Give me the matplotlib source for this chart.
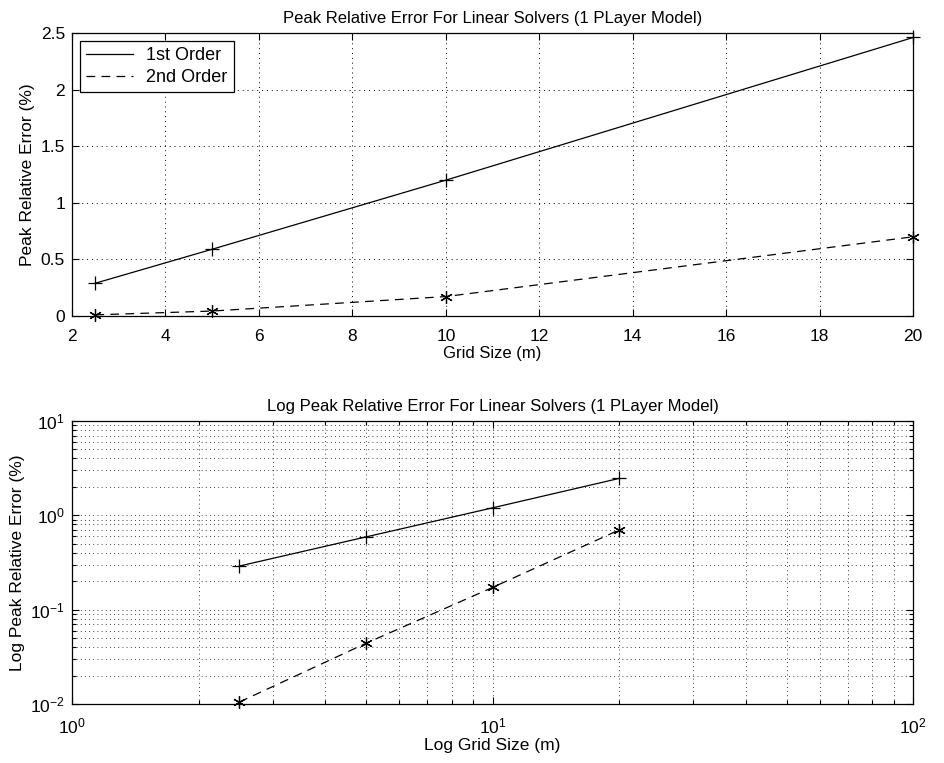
import matplotlib
matplotlib.use("Agg")
import matplotlib.pyplot as plt
from matplotlib.ticker import LogLocator, NullFormatter

plt.rcParams['font.family'] = ['Liberation Sans', 'DejaVu Sans']
plt.rcParams['font.size'] = 12
plt.rcParams['mathtext.default'] = 'regular'

grid_size = [2.5, 5, 10, 20]
first_order = [0.29, 0.59, 1.20, 2.46]
second_order = [0.0105, 0.044, 0.172, 0.70]
series_labels = ["1st Order", "2nd Order"]

fig = plt.figure(figsize=(9.44, 7.63), dpi=100)
ax1 = fig.add_axes([0.0763, 0.5858, 0.891, 0.371])
ax2 = fig.add_axes([0.0763, 0.0773, 0.891, 0.371])

star = (6, 2, 0)
lw = 0.9
dash = (0, (7, 5))

for ax in (ax1, ax2):
    ax.plot(grid_size, first_order, color='black', lw=lw, ls='-', label=series_labels[0])
    ax.plot(grid_size, second_order, color='black', lw=lw, ls=dash, label=series_labels[1])
    ax.plot(grid_size, first_order, color='black', lw=0, marker='+', ms=10, mew=0.9, clip_on=False)
    ax.plot(grid_size, second_order, color='black', lw=0, marker=star, ms=9, mew=0.9, clip_on=False)
    ax.tick_params(direction='in', top=True, right=True, which='both', length=5, width=0.8,
                   labelsize=12.5)
    ax.tick_params(axis='x', which='both', pad=9)
    ax.tick_params(axis='y', which='both', pad=5)
    for s in ax.spines.values():
        s.set_linewidth(0.9)

ax1.set_xlim(2, 20)
ax1.set_ylim(0, 2.5)
ax1.set_xticks([2, 4, 6, 8, 10, 12, 14, 16, 18, 20])
ax1.set_yticks([0, 0.5, 1, 1.5, 2, 2.5])
ax1.set_yticklabels(['0', '0.5', '1', '1.5', '2', '2.5'])
ax1.grid(True, ls=(0, (1, 4)), color='black', lw=0.7)
ax1.set_title("Peak Relative Error For Linear Solvers (1 PLayer Model)", fontsize=12, pad=7)
ax1.set_xlabel("Grid Size (m)", fontsize=12, labelpad=2)
ax1.set_ylabel("Peak Relative Error (%)", fontsize=12.5)
leg = ax1.legend(loc='upper left', fancybox=False, edgecolor='black', framealpha=1,
                 fontsize=13, handlelength=2.6, handletextpad=0.7, borderaxespad=0.45,
                 borderpad=0.35, labelspacing=0.25)
leg.get_frame().set_linewidth(0.9)

ax2.set_xscale('log')
ax2.set_yscale('log')
ax2.set_xlim(1, 100)
ax2.set_ylim(0.01, 10)
ax2.xaxis.set_major_locator(LogLocator(base=10, numticks=10))
ax2.yaxis.set_major_locator(LogLocator(base=10, numticks=10))
ax2.xaxis.set_minor_locator(LogLocator(base=10, subs=range(2, 10), numticks=20))
ax2.yaxis.set_minor_locator(LogLocator(base=10, subs=range(2, 10), numticks=20))
ax2.xaxis.set_minor_formatter(NullFormatter())
ax2.yaxis.set_minor_formatter(NullFormatter())
ax2.tick_params(which='minor', length=3)
ax2.grid(True, which='both', ls=(0, (1, 4)), color='black', lw=0.6)
ax2.set_title("Log Peak Relative Error For Linear Solvers (1 PLayer Model)", fontsize=12, pad=7)
ax2.set_xlabel("Log Grid Size (m)", fontsize=12.5, labelpad=1)
ax2.set_ylabel("Log Peak Relative Error (%)", fontsize=12.5)

fig.savefig("out.png", dpi=100)
